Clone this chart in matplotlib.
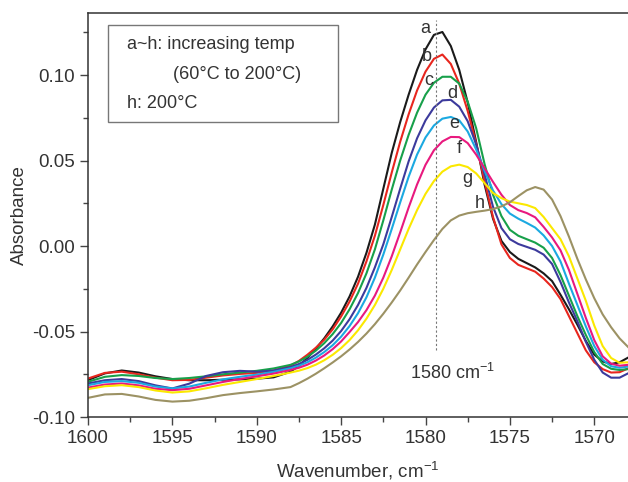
import matplotlib
matplotlib.use("Agg")
import matplotlib.pyplot as plt
from matplotlib.ticker import MultipleLocator, FormatStrFormatter
from matplotlib.patches import Rectangle

plt.rcParams["font.family"] = ["Liberation Sans", "DejaVu Sans"]
plt.rcParams["mathtext.fontset"] = "custom"
plt.rcParams["mathtext.rm"] = "Liberation Sans"
plt.rcParams["axes.unicode_minus"] = False

TXT = "#333333"
COLOR_STYLE = ["#1a1a1a", "#e8261e", "#17a04a", "#3c3a9c", "#1ba9e1", "#e8197e", "#fbe800", "#9c9264"]
LETTERS = ["a", "b", "c", "d", "e", "f", "g", "h"]
X_LABEL = r"Wavenumber, cm$^{-1}$"
Y_LABEL = "Absorbance"
X_START = 1600
X_END = 1568
Y_START = -0.10
Y_END = 0.1363

# wavenumber grid (cm-1)
wn = [1600, 1599, 1598, 1597, 1596, 1595, 1594, 1593, 1592, 1591, 1590, 1589, 1588,
      1587.5, 1587, 1586.5, 1586, 1585.5, 1585, 1584.5, 1584, 1583.5, 1583, 1582.5,
      1582, 1581.5, 1581, 1580.5, 1580, 1579.5, 1579, 1578.5, 1578, 1577.5, 1577,
      1576.5, 1576, 1575.5, 1575, 1574.5, 1574, 1573.5, 1573, 1572.5, 1572, 1571.5,
      1571, 1570.5, 1570, 1569.5, 1569, 1568.5, 1568]

a = [-0.0784, -0.0745, -0.0728, -0.0740, -0.0762, -0.0778, -0.0785, -0.0785, -0.0782, -0.0780, -0.0776, -0.0768, -0.0735,
     -0.0700, -0.0655, -0.0600, -0.0540, -0.0470, -0.0390, -0.0295, -0.0180, -0.0040, 0.0125, 0.0335,
     0.0545, 0.0725, 0.0885, 0.1030, 0.1150, 0.1235, 0.1252, 0.1170, 0.1030, 0.0840, 0.0610,
     0.0360, 0.0160, 0.0030, -0.0035, -0.0075, -0.0100, -0.0125, -0.0160, -0.0205, -0.0285, -0.0370,
     -0.0460, -0.0555, -0.0635, -0.0675, -0.0690, -0.0680, -0.0653]
b = [-0.0775, -0.0742, -0.0735, -0.0750, -0.0770, -0.0785, -0.0783, -0.0770, -0.0757, -0.0748, -0.0742, -0.0728, -0.0700,
     -0.0672, -0.0636, -0.0595, -0.0548, -0.0487, -0.0412, -0.0325, -0.0220, -0.0090, 0.0060, 0.0240,
     0.0430, 0.0610, 0.0770, 0.0910, 0.1020, 0.1095, 0.1120, 0.1065, 0.0950, 0.0790, 0.0600,
     0.0380, 0.0170, 0.0010, -0.0070, -0.0110, -0.0130, -0.0150, -0.0190, -0.0240, -0.0310, -0.0410,
     -0.0510, -0.0610, -0.0680, -0.0720, -0.0740, -0.0738, -0.0716]
c = [-0.0794, -0.0765, -0.0755, -0.0760, -0.0772, -0.0778, -0.0772, -0.0762, -0.0750, -0.0740, -0.0730, -0.0716, -0.0695,
     -0.0675, -0.0648, -0.0612, -0.0568, -0.0515, -0.0450, -0.0370, -0.0275, -0.0160, -0.0020, 0.0150,
     0.0330, 0.0500, 0.0650, 0.0780, 0.0885, 0.0955, 0.0990, 0.0990, 0.0950, 0.0845, 0.0690,
     0.0480, 0.0300, 0.0175, 0.0095, 0.0060, 0.0040, 0.0020, -0.0010, -0.0070, -0.0170, -0.0290,
     -0.0410, -0.0520, -0.0620, -0.0690, -0.0718, -0.0725, -0.0720]
d = [-0.0804, -0.0785, -0.0778, -0.0790, -0.0815, -0.0833, -0.0805, -0.0760, -0.0738, -0.0730, -0.0735, -0.0728, -0.0708,
     -0.0690, -0.0666, -0.0635, -0.0598, -0.0553, -0.0497, -0.0428, -0.0345, -0.0245, -0.0125, 0.0010,
     0.0170, 0.0335, 0.0495, 0.0630, 0.0735, 0.0810, 0.0852, 0.0855, 0.0815, 0.0730, 0.0595,
     0.0420, 0.0230, 0.0105, 0.0040, 0.0012, -0.0005, -0.0022, -0.0050, -0.0105, -0.0210, -0.0330,
     -0.0440, -0.0560, -0.0665, -0.0740, -0.0770, -0.0770, -0.0745]
e = [-0.0814, -0.0795, -0.0790, -0.0800, -0.0822, -0.0833, -0.0822, -0.0800, -0.0780, -0.0765, -0.0752, -0.0736, -0.0715,
     -0.0700, -0.0680, -0.0653, -0.0620, -0.0580, -0.0530, -0.0468, -0.0393, -0.0300, -0.0185, -0.0050,
     0.0100, 0.0255, 0.0405, 0.0535, 0.0635, 0.0705, 0.0745, 0.0755, 0.0735, 0.0670, 0.0565,
     0.0440, 0.0325, 0.0245, 0.0190, 0.0160, 0.0135, 0.0108, 0.0062, 0.0000, -0.0090, -0.0220,
     -0.0345, -0.0470, -0.0585, -0.0665, -0.0703, -0.0712, -0.0705]
f = [-0.0828, -0.0810, -0.0804, -0.0815, -0.0835, -0.0843, -0.0835, -0.0815, -0.0795, -0.0778, -0.0762, -0.0746, -0.0725,
     -0.0712, -0.0694, -0.0670, -0.0640, -0.0603, -0.0558, -0.0503, -0.0445, -0.0375, -0.0290, -0.0185,
     -0.0060, 0.0080, 0.0225, 0.0360, 0.0475, 0.0560, 0.0612, 0.0638, 0.0637, 0.0602, 0.0535,
     0.0455, 0.0375, 0.0300, 0.0240, 0.0210, 0.0193, 0.0168, 0.0112, 0.0050, -0.0025, -0.0140,
     -0.0280, -0.0420, -0.0550, -0.0645, -0.0688, -0.0700, -0.0695]
g = [-0.0837, -0.0820, -0.0814, -0.0825, -0.0845, -0.0857, -0.0850, -0.0832, -0.0812, -0.0795, -0.0778, -0.0760, -0.0740,
     -0.0729, -0.0714, -0.0694, -0.0668, -0.0636, -0.0597, -0.0550, -0.0493, -0.0425, -0.0345, -0.0250,
     -0.0140, -0.0020, 0.0100, 0.0210, 0.0305, 0.0380, 0.0435, 0.0466, 0.0476, 0.0462, 0.0425,
     0.0368, 0.0310, 0.0280, 0.0260, 0.0250, 0.0240, 0.0222, 0.0170, 0.0105, 0.0040, -0.0060,
     -0.0190, -0.0320, -0.0465, -0.0585, -0.0655, -0.0683, -0.0680]
h = [-0.0888, -0.0868, -0.0865, -0.0880, -0.0900, -0.0910, -0.0905, -0.0890, -0.0872, -0.0860, -0.0850, -0.0839, -0.0825,
     -0.0802, -0.0776, -0.0747, -0.0715, -0.0681, -0.0645, -0.0605, -0.0561, -0.0512, -0.0457, -0.0396,
     -0.0330, -0.0260, -0.0185, -0.0108, -0.0035, 0.0035, 0.0100, 0.0150, 0.0178, 0.0192, 0.0200,
     0.0207, 0.0216, 0.0232, 0.0256, 0.0292, 0.0326, 0.0345, 0.0330, 0.0272, 0.0175, 0.0055,
     -0.0075, -0.0195, -0.0305, -0.0400, -0.0475, -0.0540, -0.0590]

# curve letter positions
letter_x = [1580.0, 1579.9, 1579.8, 1578.4, 1578.3, 1578.0, 1577.5, 1576.8]
letter_y = [0.1273, 0.1110, 0.0967, 0.0893, 0.0718, 0.0571, 0.0394, 0.0250]

PEAK = 1579.4

fig = plt.figure(figsize=(6.28, 4.82), dpi=100)
ax = fig.add_axes([88 / 628, 65 / 482, 540 / 628, 404 / 482])

for ys, col in zip([a, b, c, d, e, f, g, h], COLOR_STYLE):
    ax.plot(wn, ys, color=col, lw=1.5, solid_joinstyle="round")

ax.plot([PEAK, PEAK], [-0.0608, 0.132], color="#777777", lw=0.8, ls=(0, (2, 2)))
ax.text(1580.9, -0.0743, r"1580 cm$^{-1}$", color=TXT, fontsize=13, ha="left", va="center")

for lx, ly, lt in zip(letter_x, letter_y, LETTERS):
    ax.text(lx, ly, lt, color=TXT, fontsize=13, ha="center", va="center")

# legend-like text box
ax.add_patch(Rectangle((0.037, 0.730), 0.426, 0.240, transform=ax.transAxes,
                       fill=False, ec="#777777", lw=1.0))
ax.text(0.072, 0.921, "a~h: increasing temp", transform=ax.transAxes, color=TXT, fontsize=13, va="center")
ax.text(0.157, 0.847, "(60°C to 200°C)", transform=ax.transAxes, color=TXT, fontsize=13, va="center")
ax.text(0.072, 0.777, "h: 200°C", transform=ax.transAxes, color=TXT, fontsize=13, va="center")

ax.set_xlim(X_START, X_END)
ax.set_ylim(Y_START, Y_END)
ax.xaxis.set_major_locator(MultipleLocator(5))
ax.xaxis.set_minor_locator(MultipleLocator(2.5))
ax.yaxis.set_major_locator(MultipleLocator(0.05))
ax.yaxis.set_minor_locator(MultipleLocator(0.025))
ax.yaxis.set_major_formatter(FormatStrFormatter("%.2f"))
ax.tick_params(which="both", direction="out", colors="#444444", width=1.0,
               labelsize=13.5, labelcolor=TXT, top=False, right=False)
ax.tick_params(which="major", length=6)
ax.tick_params(which="minor", length=3.5)
ax.spines["right"].set_visible(False)
for s in ["left", "bottom", "top"]:
    ax.spines[s].set_color("#333333")
    ax.spines[s].set_linewidth(1.1)

ax.set_xlabel(X_LABEL, fontsize=13.5, color=TXT, labelpad=9)
ax.set_ylabel(Y_LABEL, fontsize=13.5, color=TXT, labelpad=3)

plt.savefig("out.png", dpi=100)
